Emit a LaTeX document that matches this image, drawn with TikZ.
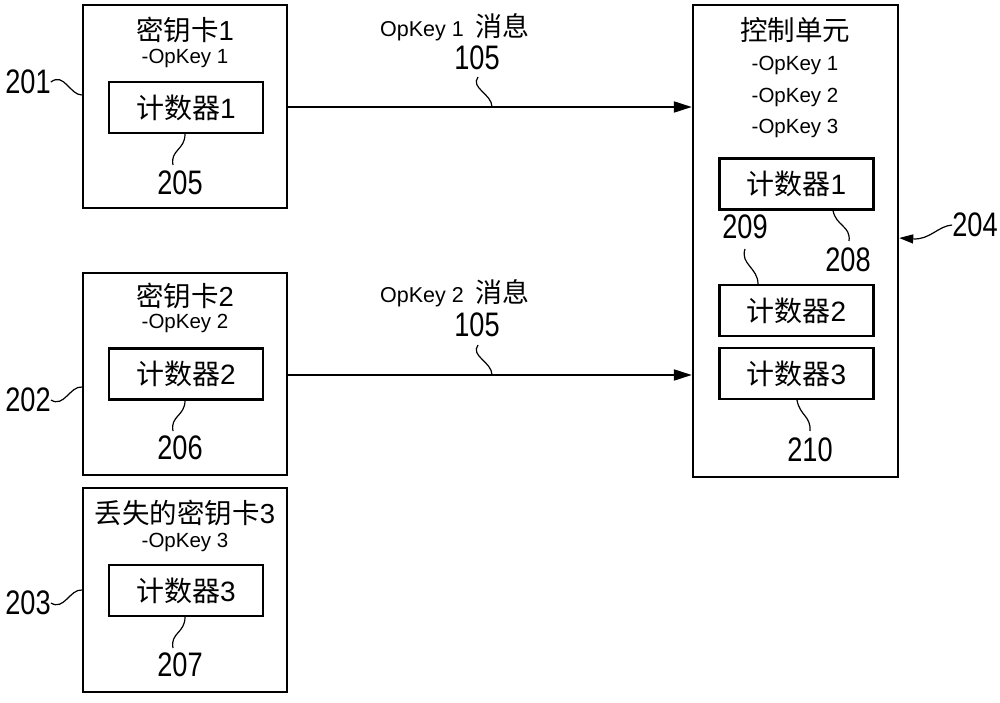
\documentclass[tikz,border=0pt]{standalone}
\usepackage{fontspec}
\setmainfont{Liberation Sans}
\newfontfamily\cjk{Noto Sans CJK SC}
\newcommand\narrownum[1]{\scalebox{0.8}[1]{#1}}
\usetikzlibrary{arrows.meta}
\tikzset{
  outerbox/.style={draw, line width=2.4pt, inner sep=0pt},
  counterbox/.style={draw, line width=2.2pt, inner sep=0pt, minimum width=154, minimum height=51,
    font=\fontsize{28}{28}\selectfont},
  title/.style={font=\fontsize{27.5}{27.5}\selectfont, inner sep=0pt},
  keytext/.style={font=\fontsize{20.5}{20.5}\selectfont, inner sep=0pt},
  msgtext/.style={font=\fontsize{21.5}{21.5}\selectfont, inner sep=0pt},
  refnum/.style={font=\fontsize{34}{34}\selectfont, inner sep=0pt},
  leader/.style={line width=1.2pt},
  msg/.style={line width=2pt, -{Triangle[length=18pt, width=11pt]}}
}
\begin{document}
\begin{tikzpicture}[x=1pt, y=-1pt]
    \useasboundingbox (0,0) rectangle (1000,703);
    \node [outerbox, minimum width=204, minimum height=203] (card1) at (185,106.5) {};
    \node [outerbox, minimum width=204, minimum height=202] (card2) at (185,374) {};
    \node [outerbox, minimum width=204, minimum height=204] (card3) at (185,590) {};
    \node [outerbox, minimum width=205, minimum height=472] (cu) at (795.5,241) {};
    \node [title] (t1) at (185,30) {{\cjk 密钥卡}1};
    \node [keytext] (k1) at (185,58) {-OpKey 1};
    \node [counterbox] (c1) at (186,107.5) {{\cjk 计数器}1};
    \node [title] (t2) at (185,296) {{\cjk 密钥卡}2};
    \node [keytext] (k2) at (185,323) {-OpKey 2};
    \node [counterbox] (c2) at (186,374) {{\cjk 计数器}2};
    \node [title] (t3) at (185,513) {{\cjk 丢失的密钥卡}3};
    \node [keytext] (k3) at (185,542) {-OpKey 3};
    \node [counterbox] (c3) at (186,590.5) {{\cjk 计数器}3};
    \node [title] (tcu) at (795,30) {\cjk 控制单元};
    \node [keytext] (kcu1) at (795,65) {-OpKey 1};
    \node [keytext] (kcu2) at (795,97) {-OpKey 2};
    \node [keytext] (kcu3) at (795,128) {-OpKey 3};
    \node [counterbox] (cu1) at (796.5,184) {{\cjk 计数器}1};
    \node [counterbox] (cu2) at (796.5,310.5) {{\cjk 计数器}2};
    \node [counterbox] (cu3) at (796.5,373.5) {{\cjk 计数器}3};
    \draw [msg] (card1.east |- 0,107) -- (cu.west |- 0,107);
    \draw [msg] (card2.east |- 0,375) -- (cu.west |- 0,375);
    \node [msgtext] (l1) at (455,27) {OpKey 1\ \ {\cjk\fontsize{27}{27}\selectfont 消息}};
    \node [refnum] (n1) at (477,58) {\narrownum{105}};
    \node [msgtext] (l2) at (455,293) {OpKey 2\ \ {\cjk\fontsize{27}{27}\selectfont 消息}};
    \node [refnum] (n2) at (477,325) {\narrownum{105}};
    \draw [leader] (478,77) .. controls (470,88) and (492,94) .. (492,107);
    \draw [leader] (478,345) .. controls (470,356) and (492,362) .. (492,375);
    \node [refnum] (r201) at (28,82) {\narrownum{201}};
    \node [refnum] (r202) at (28,400) {\narrownum{202}};
    \node [refnum] (r203) at (28,603) {\narrownum{203}};
    \draw [leader] (r201.east) .. controls (64,72) and (70,95) .. (card1.west |- 0,95);
    \draw [leader] (r202.east) .. controls (64,408) and (70,386) .. (card2.west |- 0,387);
    \draw [leader] (r203.east) .. controls (64,611) and (70,589) .. (card3.west |- 0,590);
    \node [refnum] (r205) at (180,183) {\narrownum{205}};
    \node [refnum] (r206) at (180,448) {\narrownum{206}};
    \node [refnum] (r207) at (180,665) {\narrownum{207}};
    \draw [leader] (c1.south -| 185,0) .. controls (185,150) and (170,150) .. (173,165);
    \draw [leader] (c2.south -| 185,0) .. controls (185,416) and (170,416) .. (173,431);
    \draw [leader] (c3.south -| 185,0) .. controls (185,633) and (170,633) .. (173,648);
    \node [refnum] (r208) at (848,260) {\narrownum{208}};
    \node [refnum] (r209) at (745,227) {\narrownum{209}};
    \node [refnum] (r210) at (810,450) {\narrownum{210}};
    \node [refnum] (r204) at (975,225) {\narrownum{204}};
    \draw [leader] (cu1.south -| 833,0) .. controls (836,226) and (851,226) .. (849,241);
    \draw [leader] (745,249) .. controls (740,264) and (758,268) .. (cu2.north -| 758,0);
    \draw [leader] (cu3.south -| 797,0) .. controls (800,416) and (811,416) .. (810,431);
    \draw [leader, -{Triangle[length=14pt, width=9pt]}] (r204.west) .. controls (938,226) and (930,240) .. (cu.east |- 0,238);
\end{tikzpicture}
\end{document}
